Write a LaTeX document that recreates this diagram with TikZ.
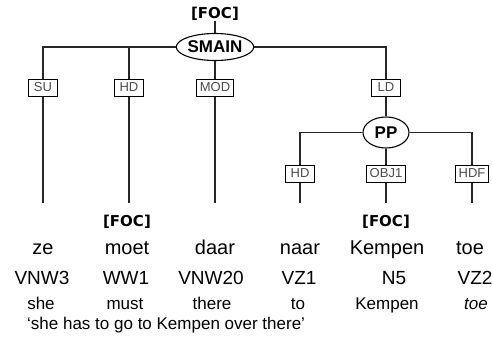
\documentclass[tikz,border=0pt]{standalone}
\usepackage{fontspec}
\setmainfont{Liberation Sans}
\newfontfamily\focfont{DejaVu Sans}
\usetikzlibrary{shapes.geometric}
\begin{document}
\begin{tikzpicture}[x=1pt,y=-1pt,
  edge/.style={line width=1.1pt, black!85},
  lab/.style={draw, line width=1pt, fill=white, inner xsep=3pt, inner ysep=0pt, minimum width=29pt, minimum height=17pt, font=\fontsize{13}{14}\selectfont, text=black!70},
  cat/.style={ellipse, draw, line width=1.1pt, fill=white, inner sep=0pt, font=\bfseries\fontsize{17}{18}\selectfont},
  foc/.style={font=\focfont\bfseries\fontsize{15}{16}\selectfont, inner sep=0pt},
  word/.style={font=\fontsize{20}{22}\selectfont, anchor=base, inner sep=0pt},
  tag/.style={font=\fontsize{19}{21}\selectfont, anchor=base, inner sep=0pt},
  gl/.style={font=\fontsize{17}{19}\selectfont, anchor=base, inner sep=0pt}]
\useasboundingbox (0,0) rectangle (492,337);
% tree nodes
\node[foc] (foc0) at (215,14) {[FOC]};
\node[cat, minimum width=71pt, minimum height=27pt] (smain) at (215,47) {SMAIN};
\node[lab] (su) at (43,87.5) {SU};
\node[lab] (hd) at (129,87.5) {HD};
\node[lab] (mod) at (215,87.5) {MOD};
\node[lab] (ld) at (386,87.5) {LD};
\node[cat, minimum width=46pt, minimum height=31pt] (pp) at (386,132.5) {PP};
\node[lab] (hdb) at (300,173.5) {HD};
\node[lab] (obj) at (386,173.5) {OBJ1};
\node[lab] (hdf) at (472,173.5) {HDF};
% leaf ends
\coordinate (e1) at (43,203);
\coordinate (e2) at (129,203);
\coordinate (e3) at (215,203);
\coordinate (e4) at (300,203);
\coordinate (e5) at (386,203);
\coordinate (e6) at (472,203);
% connectors
\draw[edge] (foc0.south) -- (smain.north);
\draw[edge] (smain.west) -| (su.north);
\draw[edge] (smain.west) -| (hd.north);
\draw[edge] (smain.south) -- (mod.north);
\draw[edge] (smain.east) -| (ld.north);
\draw[edge] (ld.south) -- (pp.north);
\draw[edge] (pp.west) -| (hdb.north);
\draw[edge] (pp.south) -- (obj.north);
\draw[edge] (pp.east) -| (hdf.north);
\draw[edge] (su.south) -- (e1);
\draw[edge] (hd.south) -- (e2);
\draw[edge] (mod.south) -- (e3);
\draw[edge] (hdb.south) -- (e4);
\draw[edge] (obj.south) -- (e5);
\draw[edge] (hdf.south) -- (e6);
% focus marks
\node[foc] (foc1) at (127,222) {[FOC]};
\node[foc] (foc2) at (386,222) {[FOC]};
% words
\node[word] (w1) at (43,254) {ze};
\node[word] (w2) at (127,254) {moet};
\node[word] (w3) at (215,254) {daar};
\node[word] (w4) at (300,254) {naar};
\node[word] (w5) at (387,254) {Kempen};
\node[word] (w6) at (470,254) {toe};
% tags
\node[tag] (t1) at (42,284) {VNW3};
\node[tag] (t2) at (126,284) {WW1};
\node[tag] (t3) at (211,284) {VNW20};
\node[tag] (t4) at (299,284) {VZ1};
\node[tag] (t5) at (394,284) {N5};
\node[tag] (t6) at (475,284) {VZ2};
% glosses
\node[gl] (g1) at (41,309) {she};
\node[gl] (g2) at (125,309) {must};
\node[gl] (g3) at (212,309) {there};
\node[gl] (g4) at (298,309) {to};
\node[gl] (g5) at (387,309) {Kempen};
\node[gl] (g6) at (476,309) {\itshape toe};
\node[gl, anchor=base west] (tr) at (27,329) {‘she has to go to Kempen over there’};
\end{tikzpicture}
\end{document}
